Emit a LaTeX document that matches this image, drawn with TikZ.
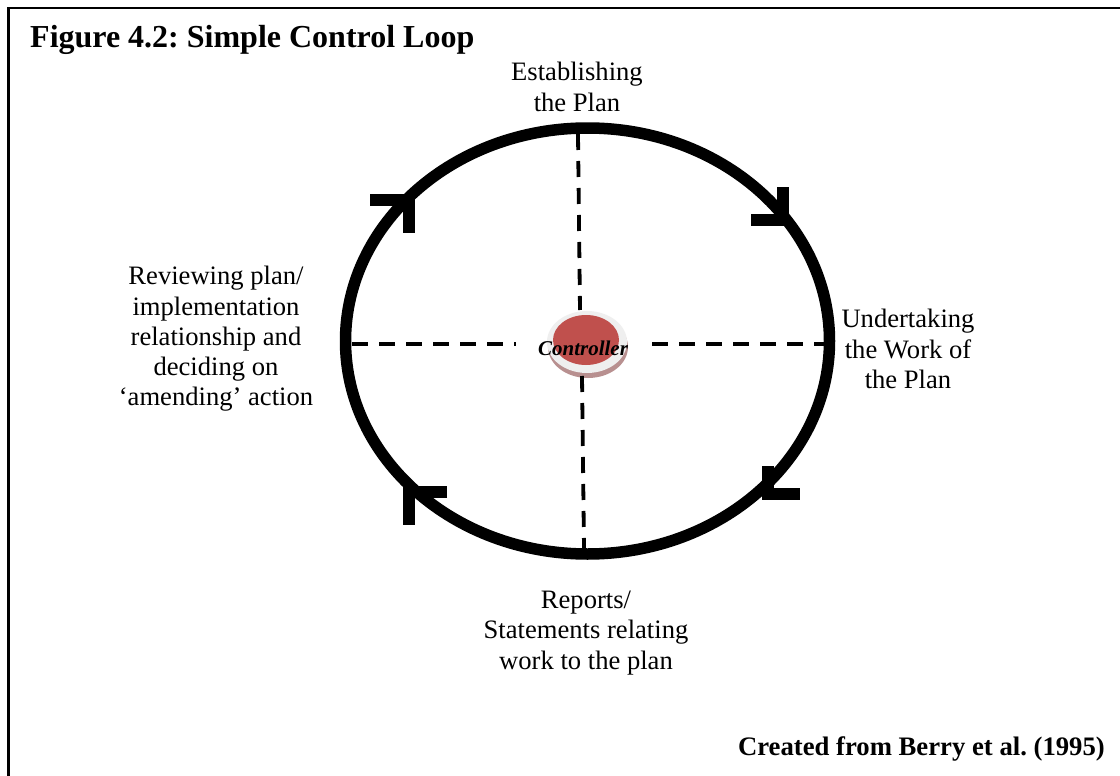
\documentclass[tikz,border=0pt]{standalone}
\usepackage{fontspec}
\setmainfont{Liberation Serif}
\usetikzlibrary{shapes.geometric}
\definecolor{ctrlred}{HTML}{C0504D}
\definecolor{ringgray}{HTML}{EFEFEF}
\definecolor{shadowc}{HTML}{B89090}
\tikzset{
  lbl/.style={align=center, font=\fontsize{26.6}{30.2}\selectfont, inner sep=0pt},
  loopline/.style={line width=11.5pt},
  chev/.style={line width=12pt, line join=miter, line cap=butt},
  spoke/.style={line width=3.8pt, dash pattern=on 16pt off 11pt},
}
\frenchspacing
\begin{document}
\begin{tikzpicture}[x=1pt,y=-1pt]
\useasboundingbox (0,0) rectangle (1120,776);
\fill[white] (0,0) rectangle (1120,776);
\draw[line width=2.5pt] (8.5,8) rectangle (1130,790);

% loop
\node[draw, loopline, ellipse, minimum width=484pt, minimum height=426pt, inner sep=0pt] (loop) at (587.5,341) {};

% controller
\fill[shadowc] (588,347) ellipse [x radius=40pt, y radius=31pt];
\fill[ringgray] (587,342) ellipse [x radius=40pt, y radius=31pt];
\node[ellipse, fill=ctrlred, minimum width=66pt, minimum height=50pt, inner sep=0pt] (ctrl) at (586,340) {};
\node[font=\fontsize{21}{24}\selectfont\bfseries\itshape, inner sep=0pt] (ctrltext) at (583,348) {Controller};

% spokes
\coordinate (sN) at (578,134);
\coordinate (sNc) at (580,310);
\coordinate (sS) at (584,548);
\coordinate (sSc) at (582,376);
\coordinate (sW) at (352,344);
\coordinate (sWc) at (516,344);
\coordinate (sE) at (825,344);
\coordinate (sEc) at (652,344);
\draw[spoke] (sN) -- (sNc);
\draw[spoke] (sSc) -- (sS);
\draw[spoke] (sW) -- (sWc);
\draw[spoke] (sEc) -- (sE);

% arrow chevrons
\draw[chev] (370,200) -- (409,200) -- (409,233);
\draw[chev] (751,220) -- (783,220) -- (783,187);
\draw[chev] (768,466) -- (768,494) -- (800,494);
\draw[chev] (447,492) -- (409,492) -- (409,525);

% labels
\node[font=\fontsize{32}{36}\selectfont\bfseries, anchor=base west, inner sep=0pt] (title) at (30,48) {Figure 4.2: Simple Control Loop};
\node[lbl] (plan) at (577,87) {Establishing\\the Plan};
\node[lbl] (work) at (908,349) {Undertaking\\the Work of\\the Plan};
\node[lbl] (reports) at (586,633) {Reports/\\Statements relating\\work to the plan};
\node[lbl] (review) at (216,339) {Reviewing plan/\\implementation\\relationship and\\deciding on\\‘amending’ action};
\node[font=\fontsize{26.7}{30}\selectfont\bfseries, anchor=base east, inner sep=0pt] (credit) at (1105,755) {Created from Berry et al. (1995)};
\end{tikzpicture}
\end{document}
